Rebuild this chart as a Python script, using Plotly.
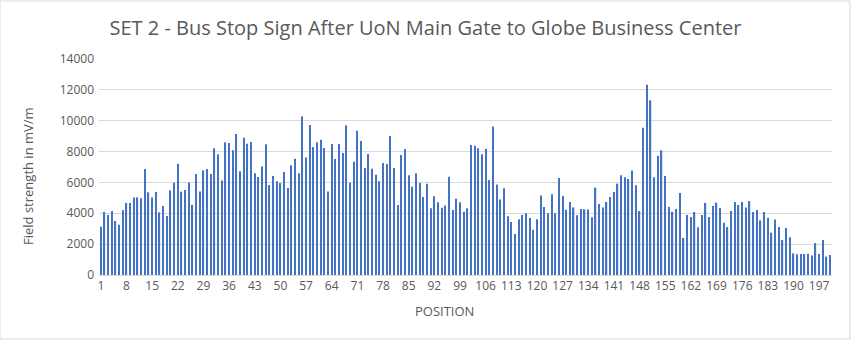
import plotly.graph_objects as go

positions = list(range(1, 201))
field_strength = [
    3130, 4080, 3890, 4150, 3500, 3260, 4190, 4670, 4670, 5030,
    5030, 4970, 6870, 5360, 5030, 5380, 4060, 4470, 3820, 5490,
    5980, 7210, 5400, 5510, 6000, 4540, 6540, 5420, 6780, 6870,
    6540, 8210, 7820, 6130, 8600, 8550, 8080, 9140, 6720, 8900,
    8510, 8620, 6590, 6350, 7040, 8470, 5830, 6410, 6070, 5960,
    6670, 5640, 7110, 7540, 6590, 10280, 7620, 9720, 8290, 8600,
    8770, 8230, 5420, 8490, 7520, 8490, 7900, 9700, 5980, 7340,
    9350, 8680, 6930, 7840, 6890, 6500, 6070, 7260, 7190, 9010,
    6930, 4540, 7780, 8160, 6460, 5720, 6590, 5960, 5050, 5920,
    4320, 5100, 4710, 4360, 4510, 6370, 4210, 4950, 4710, 4100,
    4320, 8420, 8380, 8210, 7820, 8190, 6160, 9630, 5870, 4900,
    5620, 3800, 3430, 2660, 3610, 3890, 4000, 3690, 2940, 3610,
    5160, 4410, 4000, 5230, 4000, 6290, 5120, 4230, 4730, 4380,
    3870, 4280, 4260, 4250, 3740, 5660, 4600, 4380, 4730, 5050,
    5380, 5920, 6460, 6330, 6220, 6780, 5810, 4150, 9550, 12330,
    11320, 6330, 7730, 8080, 6410, 4410, 4100, 4280, 5310, 2400,
    3890, 3760, 4080, 3090, 3890, 4670, 3760, 4470, 4690, 4340,
    3390, 3110, 4150, 4730, 4540, 4730, 4380, 4790, 4080, 4210,
    3540, 4080, 3710, 2740, 3590, 3110, 2270, 3050, 2440, 1400,
    1340, 1360, 1360, 1380, 1270, 2070, 1360, 2270, 1190, 1300,
]
x_tick_values = list(range(1, 201, 7))
y_tick_values = list(range(0, 14001, 2000))

title_text = "SET 2 - Bus Stop Sign After UoN Main Gate to Globe Business Center"
x_title = "POSITION"
y_title = "Field strength in mV/m"

text_color = "#595959"
font_family = "Open Sans, Liberation Sans, sans-serif"

fig = go.Figure(
    go.Bar(
        x=positions,
        y=field_strength,
        marker=dict(color="#4472C4", line=dict(width=0)),
        hoverinfo="x+y",
    )
)

fig.update_layout(
    width=851,
    height=340,
    margin=dict(l=99, r=19, t=59, b=65),
    paper_bgcolor="white",
    plot_bgcolor="white",
    bargap=0.66,
    showlegend=False,
    title=dict(
        text=title_text,
        x=0.5,
        xanchor="center",
        xref="container",
        y=1 - 28 / 340,
        yanchor="middle",
        font=dict(family=font_family, size=20, color=text_color),
    ),
    font=dict(family=font_family, color=text_color),
)

fig.update_xaxes(
    range=[0.5, 200.5],
    tickmode="array",
    tickvals=x_tick_values,
    ticktext=[str(v) for v in x_tick_values],
    tickangle=0,
    tickfont=dict(size=12, color=text_color),
    showgrid=False,
    showline=True,
    linecolor="#d9d9d9",
    linewidth=1,
    ticks="",
    zeroline=False,
)

fig.update_yaxes(
    range=[0, 14000],
    tickmode="array",
    tickvals=y_tick_values,
    ticktext=[str(v) for v in y_tick_values],
    tickfont=dict(size=12, color=text_color),
    showgrid=True,
    gridcolor="#d9d9d9",
    gridwidth=1,
    zeroline=False,
    showline=False,
    ticks="",
    ticklabelstandoff=4,
)

fig.add_annotation(
    text=x_title, xref="paper", yref="paper",
    x=(444 - 99) / 733, y=-(311 - 275) / 216,
    xanchor="center", yanchor="middle", showarrow=False,
    font=dict(family=font_family, size=13, color=text_color),
)
fig.add_annotation(
    text=y_title, xref="paper", yref="paper",
    x=-(99 - 28) / 733, y=(275 - 176) / 216,
    xanchor="center", yanchor="middle", showarrow=False, textangle=-90,
    font=dict(family=font_family, size=13, color=text_color),
)

fig.add_shape(
    type="rect", xref="paper", yref="paper",
    x0=-99 / 733, x1=1 + 18 / 733, y0=-64 / 216, y1=1 + 58 / 216,
    line=dict(color="#d9d9d9", width=1), fillcolor="rgba(0,0,0,0)", layer="below",
)

fig.write_html("out.html")
